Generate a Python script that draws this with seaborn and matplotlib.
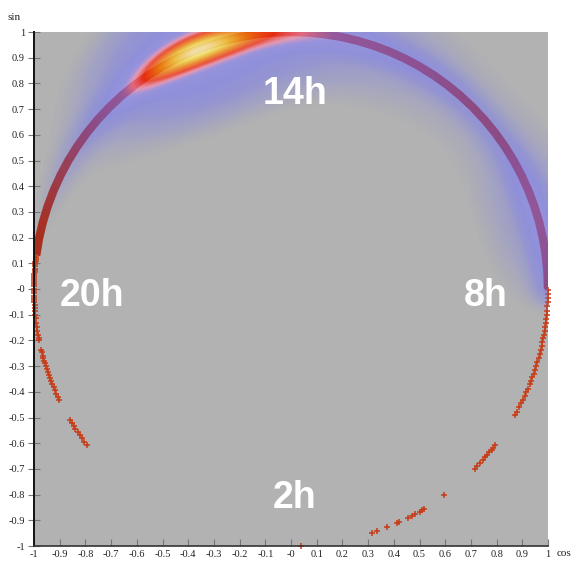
import numpy as np
import pandas as pd
import matplotlib
matplotlib.use("Agg")
import matplotlib.pyplot as plt
from matplotlib.colors import LinearSegmentedColormap
import seaborn as sns

# Continuous daytime track (hour of day, 15-minute grid) and relative activity
track_hours = [8.0, 8.25, 8.5, 8.75, 9.0, 9.25, 9.5, 9.75, 10.0, 10.25, 10.5, 10.75,
               11.0, 11.25, 11.5, 11.75, 12.0, 12.25, 12.5, 12.75, 13.0, 13.25, 13.5, 13.75,
               14.0, 14.25, 14.5, 14.75, 15.0, 15.25, 15.5, 15.75, 16.0, 16.25, 16.5, 16.75,
               17.0, 17.25, 17.5, 17.75, 18.0, 18.25, 18.5, 18.75, 19.0, 19.25, 19.5]
track_activity = [0.9, 1.1, 1.4, 1.7, 1.9, 1.9, 1.7, 1.4, 1.1, 0.9, 0.8, 0.8,
                  0.8, 0.9, 1.0, 1.1, 1.2, 1.3, 1.4, 1.5, 1.7, 1.9, 2.2, 2.6,
                  3.0, 3.5, 4.2, 5.4, 6.8, 7.6, 7.8, 7.0, 5.6, 4.0, 2.7, 1.8,
                  1.2, 0.9, 0.65, 0.5, 0.38, 0.3, 0.24, 0.18, 0.14, 0.1, 0.07]

# Individual fixes outside the continuous track (hour of day)
evening_fixes = [19.52, 19.55, 19.58, 19.6, 19.63, 19.66, 19.7, 19.72, 19.75, 19.78,
                 19.8, 19.83, 19.86, 19.9, 19.93, 19.96, 20.0, 20.03, 20.06, 20.1,
                 20.13, 20.17, 20.2, 20.24, 20.28, 20.33, 20.38, 20.43, 20.5, 20.56,
                 20.62, 20.68, 20.73, 20.77]
late_evening_fixes = [20.91, 20.95, 21.0, 21.04, 21.08, 21.12, 21.17, 21.21, 21.26,
                      21.3, 21.35, 21.4, 21.45, 21.5, 21.55, 21.6, 21.65, 21.71]
night_fixes = [22.05, 22.1, 22.15, 22.2, 22.26, 22.31, 22.37, 22.43, 22.49]
small_hours_fixes = [2.15, 3.22, 3.3, 3.47, 3.62, 3.66, 3.81, 3.87, 3.92, 4.0, 4.04,
                     4.07, 4.44]
dawn_fixes = [5.04, 5.1, 5.16, 5.22, 5.27, 5.32, 5.37, 5.42, 5.46, 5.5]
morning_fixes = [6.04, 6.1, 6.17, 6.24, 6.3, 6.36, 6.42, 6.48, 6.55, 6.6, 6.66, 6.72,
                 6.78, 6.84, 6.9, 6.96, 7.02, 7.08, 7.14, 7.2, 7.26, 7.32, 7.38, 7.44,
                 7.5, 7.56, 7.62, 7.68, 7.74, 7.8, 7.86, 7.92, 7.98]

hour_mark_labels = ["2h", "8h", "14h", "20h"]
hour_mark_values = [2, 8, 14, 20]

tick_values = [-1, -0.9, -0.8, -0.7, -0.6, -0.5, -0.4, -0.3, -0.2, -0.1, 0,
               0.1, 0.2, 0.3, 0.4, 0.5, 0.6, 0.7, 0.8, 0.9, 1]
tick_labels = ["-1", "-0.9", "-0.8", "-0.7", "-0.6", "-0.5", "-0.4", "-0.3", "-0.2",
               "-0.1", "-0", "0.1", "0.2", "0.3", "0.4", "0.5", "0.6", "0.7", "0.8",
               "0.9", "1"]


def on_clock(hours):
    """Map hour of day onto the unit circle (8h -> angle 0, 14h -> top)."""
    ang = (np.asarray(hours, dtype=float) - 8.0) / 24.0 * 2 * np.pi
    return np.cos(ang), np.sin(ang)


tx, ty = on_clock(track_hours)
track = pd.DataFrame({"cos": tx, "sin": ty, "activity": track_activity})

fix_hours = (evening_fixes + late_evening_fixes + night_fixes + small_hours_fixes
             + dawn_fixes + morning_fixes)
fx, fy = on_clock(fix_hours)
fixes = pd.DataFrame({"cos": fx, "sin": fy})

# Activity density on a grid: a tight kernel plus a wide halo kernel
grid = np.linspace(-1, 1, 501)
GX, GY = np.meshgrid(grid, grid)


def smooth(bw):
    d = np.zeros_like(GX)
    for x0, y0, w in zip(track["cos"], track["sin"], track["activity"]):
        d += w * np.exp(-((GX - x0) ** 2 + (GY - y0) ** 2) / (2 * bw ** 2))
    return d / d.max()


dens = 0.75 * smooth(0.04) + 0.25 * smooth(0.14)
dens /= dens.max()

heat = LinearSegmentedColormap.from_list("heat", [
    (0.00, (0.40, 0.40, 1.00, 0.00)),
    (0.012, (0.40, 0.40, 1.00, 0.00)),
    (0.04, (0.42, 0.42, 1.00, 0.22)),
    (0.08, (0.42, 0.42, 1.00, 0.40)),
    (0.15, (0.44, 0.44, 1.00, 0.52)),
    (0.28, (0.52, 0.48, 1.00, 0.56)),
    (0.38, (1.00, 0.55, 0.72, 0.64)),
    (0.50, (1.00, 0.16, 0.05, 0.72)),
    (0.70, (1.00, 0.55, 0.05, 0.74)),
    (0.88, (1.00, 0.90, 0.30, 0.78)),
    (1.00, (1.00, 1.00, 0.75, 0.85)),
])

sns.set_theme(style="white")
plt.rcParams["font.family"] = ["DejaVu Sans"]

fig = plt.figure(figsize=(5.71, 5.62), dpi=100)
ax = fig.add_axes([34 / 571, 16 / 562, 514 / 571, 514 / 562])
ax.set_facecolor("#b2b2b2")

sns.lineplot(data=track, x="cos", y="sin", sort=False, estimator=None,
             color="#a8301e", linewidth=6, ax=ax, zorder=2,
             solid_capstyle="butt")
sns.scatterplot(data=fixes, x="cos", y="sin", marker="+", s=22, linewidth=1.1,
                color="#c63c18", ax=ax, zorder=2, clip_on=False)

ax.imshow(dens, extent=(-1, 1, -1, 1), origin="lower", cmap=heat,
          vmin=0, vmax=1, interpolation="bilinear", zorder=3, aspect="auto")

for lab, h in zip(hour_mark_labels, hour_mark_values):
    cx, cy = on_clock([h])
    lx = 0.765 * cx[0] + 0.016 - 0.025 * abs(cx[0])
    ly = 0.786 * cy[0] - 0.012
    ax.text(lx, ly - 0.0525, lab, ha="center", va="baseline", color="white",
            fontsize=27, fontweight="bold", family="Liberation Sans", zorder=5)

ax.set_xlim(-1, 1)
ax.set_ylim(-1, 1)
ax.set_xticks(tick_values)
ax.set_xticklabels(tick_labels)
ax.set_yticks(tick_values)
ax.set_yticklabels(tick_labels)
ax.set_xlabel("")
ax.set_ylabel("")
for lbl in ax.get_xticklabels() + ax.get_yticklabels():
    lbl.set_family("Liberation Serif")
    lbl.set_fontsize(7.5)
    lbl.set_color("#222222")
ax.tick_params(axis="x", direction="in", length=5, width=0.8, color="#777777",
               pad=3, bottom=True)
ax.tick_params(axis="y", direction="inout", length=9, width=0.8, color="#777777",
               pad=2, left=True)
for side in ("top", "right"):
    ax.spines[side].set_visible(False)
ax.spines["left"].set_color("#111111")
ax.spines["left"].set_linewidth(1.4)
ax.spines["bottom"].set_color("#333333")
ax.spines["bottom"].set_linewidth(1.2)
ax.spines["left"].set_zorder(6)
ax.spines["bottom"].set_zorder(6)

fig.text(14 / 571, 1 - 18 / 562, "sin", ha="center", va="center",
         family="Liberation Serif", fontsize=8, color="#222222")
fig.text(557 / 571, 9 / 562, "cos", ha="left", va="center",
         family="Liberation Serif", fontsize=8, color="#222222")

fig.savefig("out.png", dpi=100, facecolor="white")
